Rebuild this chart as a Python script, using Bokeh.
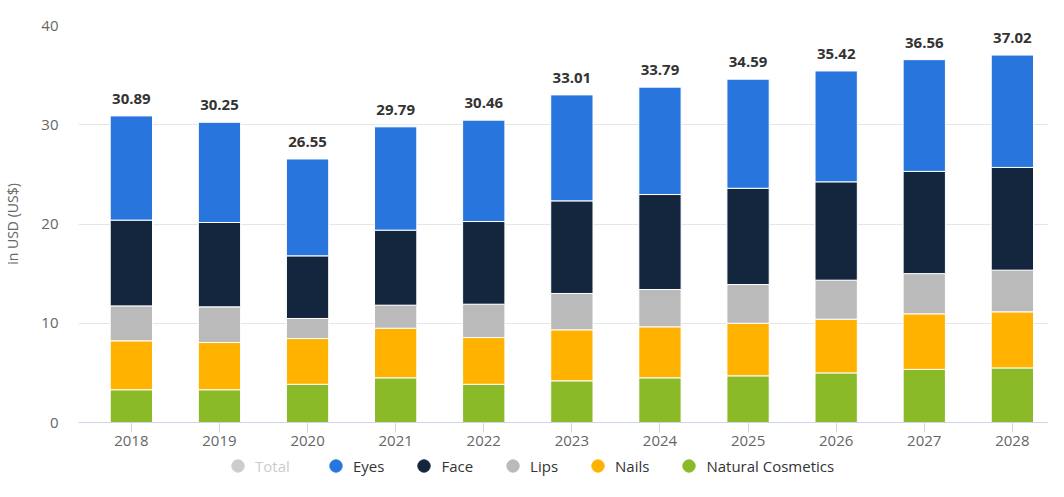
from bokeh.plotting import figure
from bokeh.layouts import column
from bokeh.models import Range1d, FixedTicker, Legend, LegendItem, ColumnDataSource
from bokeh.core.properties import value
from bokeh.embed import file_html
from bokeh.resources import INLINE

years = ["2018", "2019", "2020", "2021", "2022", "2023", "2024", "2025", "2026", "2027", "2028"]
totals = [30.89, 30.25, 26.55, 29.79, 30.46, 33.01, 33.79, 34.59, 35.42, 36.56, 37.02]
natural = [3.3, 3.3, 3.85, 4.5, 3.85, 4.2, 4.5, 4.7, 5.0, 5.35, 5.5]
nails = [4.93, 4.76, 4.61, 5.0, 4.71, 5.14, 5.14, 5.3, 5.41, 5.6, 5.65]
lips = [3.52, 3.59, 2.02, 2.32, 3.36, 3.66, 3.76, 3.9, 3.93, 4.05, 4.2]
face = [8.64, 8.5, 6.31, 7.56, 8.33, 9.33, 9.57, 9.7, 9.91, 10.3, 10.35]
eyes = [round(t - (a + b + c + d), 2) for t, a, b, c, d in zip(totals, natural, nails, lips, face)]

series = ["Natural Cosmetics", "Nails", "Lips", "Face", "Eyes"]
colors = ["#8aba27", "#ffb200", "#bababa", "#13263d", "#2876dd"]
legend_names = ["Eyes", "Face", "Lips", "Nails", "Natural Cosmetics"]
legend_colors = ["#2876dd", "#13263d", "#bababa", "#ffb200", "#8aba27"]
y_ticks = [0, 10, 20, 30, 40]

FONT = "Open Sans"

xs = list(range(len(years)))
src = ColumnDataSource(dict(x=xs, **{"Natural Cosmetics": natural, "Nails": nails, "Lips": lips,
                                      "Face": face, "Eyes": eyes},
                            total=totals, lbl=["%.2f" % t for t in totals]))

p = figure(width=1048, height=450, output_backend="svg", toolbar_location=None,
           x_range=Range1d(-0.6, 10.41), y_range=Range1d(0, 40),
           min_border_left=78, min_border_right=0, min_border_top=25, min_border_bottom=28)
p.outline_line_color = None
p.background_fill_color = "white"
p.border_fill_color = "white"

p.vbar_stack(series, x="x", width=0.48, source=src, color=colors,
             line_color="white", line_width=1)

p.text(x="x", y="total", text="lbl", source=src, text_align="center", text_baseline="alphabetic",
       y_offset=-17, text_font=value(FONT), text_font_size="15px", text_font_style="bold",
       text_color="#333333")

# axes
p.xaxis.ticker = FixedTicker(ticks=xs)
p.xaxis.major_label_overrides = {i: y for i, y in enumerate(years)}
p.xaxis.axis_line_color = "#ccd6eb"
p.xaxis.major_tick_line_color = "#ccd6eb"
p.xaxis.major_tick_out = 10
p.xaxis.major_tick_in = 0
p.xaxis.minor_tick_line_color = None
p.xaxis.major_label_standoff = 3
p.xaxis.major_label_text_font = FONT
p.xaxis.major_label_text_font_size = "15px"
p.xaxis.major_label_text_color = "#666666"

p.yaxis.ticker = FixedTicker(ticks=y_ticks)
p.yaxis.axis_line_color = None
p.yaxis.major_tick_line_color = None
p.yaxis.minor_tick_line_color = None
p.yaxis.major_tick_out = 0
p.yaxis.major_label_standoff = 20
p.yaxis.major_label_text_font = FONT
p.yaxis.major_label_text_font_size = "15px"
p.yaxis.major_label_text_color = "#666666"
p.yaxis.axis_label = "in USD (US$)"
p.yaxis.axis_label_text_font = FONT
p.yaxis.axis_label_text_font_size = "14px"
p.yaxis.axis_label_text_font_style = "normal"
p.yaxis.axis_label_text_color = "#666666"
p.yaxis.axis_label_standoff = 16

p.xgrid.grid_line_color = None
p.ygrid.grid_line_color = "#e6e6e6"
p.ygrid.grid_line_width = 1

# legend strip
lf = figure(width=1048, height=31, output_backend="svg", toolbar_location=None,
            x_range=Range1d(0, 1), y_range=Range1d(0, 1), x_axis_type=None, y_axis_type=None,
            min_border=0)
lf.outline_line_color = None
lf.xgrid.grid_line_color = None
lf.ygrid.grid_line_color = None

def dummy(color):
    # one point placed outside the visible range so that only the legend symbol shows
    return lf.scatter(x=[-10], y=[-10], marker="circle", size=13, fill_color=color, line_color=color)

tot_r = dummy("#cccccc")
leg_rs = [dummy(c) for c in legend_colors]

def mk_legend(items, loc, color):
    return Legend(items=items, location=loc, orientation="horizontal",
                  border_line_color=None, background_fill_alpha=0, padding=0, margin=0,
                  spacing=24, glyph_width=31, glyph_height=31, label_standoff=2,
                  label_text_font=FONT, label_text_font_size="15px", label_text_color=color,
                  label_height=31, label_text_baseline="middle")

lgA = mk_legend([LegendItem(label="Total", renderers=[tot_r])], (144, 0), "#cccccc")
lgB = mk_legend([LegendItem(label=n, renderers=[r]) for n, r in zip(legend_names, leg_rs)],
                (242, 0), "#333333")
lf.add_layout(lgA)
lf.add_layout(lgB)

layout = column(p, lf, spacing=0)
open("out.html", "w").write(file_html(layout, INLINE))
